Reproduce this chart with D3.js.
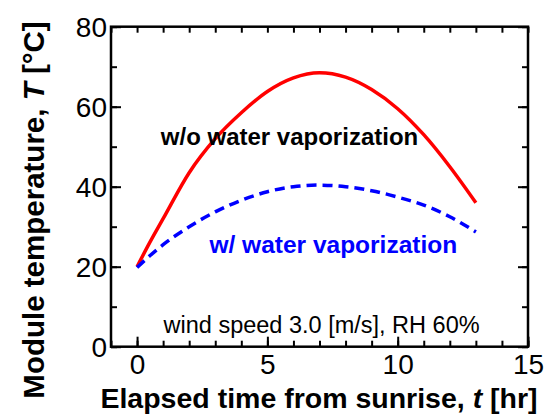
<!DOCTYPE html>
<html>
<head>
<meta charset="utf-8">
<script src="https://cdn.jsdelivr.net/npm/d3@7"></script>
<style>
  body { margin: 0; background: #fff; }
  svg { display: block; font-family: Arial, "Liberation Sans", sans-serif; }
</style>
</head>
<body>
<div class="visHolder"></div>
<script>
// elapsed time [hr] and module temperature [°C]
let timeHr = [0, 0.5, 1, 2, 3, 4, 5, 6, 7, 8, 9, 10, 11, 12, 13];
let tempNoVap = [20, 26.2, 32, 43.5, 52, 58.5, 63.8, 67.2, 68.5, 67.4, 64.3, 59.5, 53.0, 45.0, 36.0];
let tempVap = [19.8, 22.8, 25.5, 30.0, 33.7, 36.6, 38.75, 40.0, 40.4, 40.0, 39.0, 37.4, 35.4, 32.5, 28.7];

let xTicks = [0, 5, 10, 15];
let yTicks = [0, 20, 40, 60, 80];

let width = 548;
let height = 417;
let padLeft = 111, padRight = 528, padTop = 26.7, padBottom = 346.7;

let svg = d3.select('.visHolder').append('svg')
  .attr('width', width)
  .attr('height', height);

let xScale = d3.scaleLinear().domain([-1, 15]).range([padLeft, padRight]);
let yScale = d3.scaleLinear().domain([0, 80]).range([padBottom, padTop]);

function drawAxes() {
  let minorX = d3.range(-1, 16, 1);
  let minorY = d3.range(0, 81, 10);

  // bottom
  svg.append('g')
    .attr('transform', 'translate(0,' + padBottom + ')')
    .call(d3.axisBottom(xScale).tickValues(minorX).tickSize(-6).tickFormat(''));
  svg.append('g')
    .attr('transform', 'translate(0,' + padBottom + ')')
    .call(d3.axisBottom(xScale).tickValues(xTicks).tickSize(-10).tickPadding(7).tickFormat(d3.format('d')))
    .attr('class', 'x-labels');
  // top
  svg.append('g')
    .attr('transform', 'translate(0,' + padTop + ')')
    .call(d3.axisTop(xScale).tickValues(minorX).tickSize(-6).tickFormat(''));
  // left
  svg.append('g')
    .attr('transform', 'translate(' + padLeft + ',0)')
    .call(d3.axisLeft(yScale).tickValues(minorY).tickSize(-6).tickFormat(''));
  svg.append('g')
    .attr('transform', 'translate(' + padLeft + ',0)')
    .call(d3.axisLeft(yScale).tickValues(yTicks).tickSize(-10).tickPadding(4).tickFormat(d3.format('d')))
    .attr('class', 'y-labels');
  // right
  svg.append('g')
    .attr('transform', 'translate(' + padRight + ',0)')
    .call(d3.axisRight(yScale).tickValues(minorY).tickSize(-6).tickFormat(''));
  svg.append('g')
    .attr('transform', 'translate(' + padRight + ',0)')
    .call(d3.axisRight(yScale).tickValues(yTicks).tickSize(-10).tickFormat(''));

  svg.selectAll('.domain').remove();
  svg.selectAll('.tick line').attr('stroke', '#000').attr('stroke-width', 2);
  svg.selectAll('.x-labels text, .y-labels text')
    .attr('fill', '#000')
    .style('font-size', '28px');
  svg.selectAll('.y-labels text').attr('dy', '0.36em');

  // frame
  svg.append('rect')
    .attr('x', padLeft).attr('y', padTop)
    .attr('width', padRight - padLeft).attr('height', padBottom - padTop)
    .attr('fill', 'none').attr('stroke', '#000').attr('stroke-width', 2.5);
}

function drawLines() {
  let line = (vals) => d3.line()
    .x((d, i) => xScale(timeHr[i]))
    .y((d) => yScale(d))
    .curve(d3.curveMonotoneX)(vals);

  svg.append('path')
    .attr('d', line(tempNoVap))
    .attr('fill', 'none')
    .attr('stroke', '#ff0000')
    .attr('stroke-width', 3.5);

  svg.append('path')
    .attr('d', line(tempVap))
    .attr('fill', 'none')
    .attr('stroke', '#0000ff')
    .attr('stroke-width', 3.5)
    .attr('stroke-dasharray', '10,6');
}

function drawText() {
  svg.append('text')
    .attr('x', xScale(5.85)).attr('y', yScale(50.4))
    .attr('text-anchor', 'middle')
    .style('font-size', '24px').style('font-weight', 'bold')
    .attr('fill', '#000')
    .text('w/o water vaporization');

  svg.append('text')
    .attr('x', xScale(7.53)).attr('y', yScale(23.5))
    .attr('text-anchor', 'middle')
    .style('font-size', '24.5px').style('font-weight', 'bold')
    .attr('fill', '#0000ff')
    .text('w/ water vaporization');

  svg.append('text')
    .attr('x', xScale(7.08)).attr('y', yScale(3.4))
    .attr('text-anchor', 'middle')
    .style('font-size', '23.5px')
    .attr('fill', '#000')
    .text('wind speed 3.0 [m/s], RH 60%');

  // axis titles
  let xt = svg.append('text')
    .attr('x', 319).attr('y', 408)
    .attr('text-anchor', 'middle')
    .style('font-size', '28.5px').style('font-weight', 'bold');
  xt.append('tspan').text('Elapsed time from sunrise, ');
  xt.append('tspan').style('font-style', 'italic').text('t');
  xt.append('tspan').text(' [hr]');

  let yt = svg.append('text')
    .attr('transform', 'translate(44,' + 210 + ') rotate(-90)')
    .attr('text-anchor', 'middle')
    .style('font-size', '29.5px').style('font-weight', 'bold');
  yt.append('tspan').text('Module temperature, ');
  yt.append('tspan').style('font-style', 'italic').text('T');
  yt.append('tspan').text(' [\u00b0C]');
}

drawAxes();
drawLines();
drawText();
</script>
</body>
</html>
